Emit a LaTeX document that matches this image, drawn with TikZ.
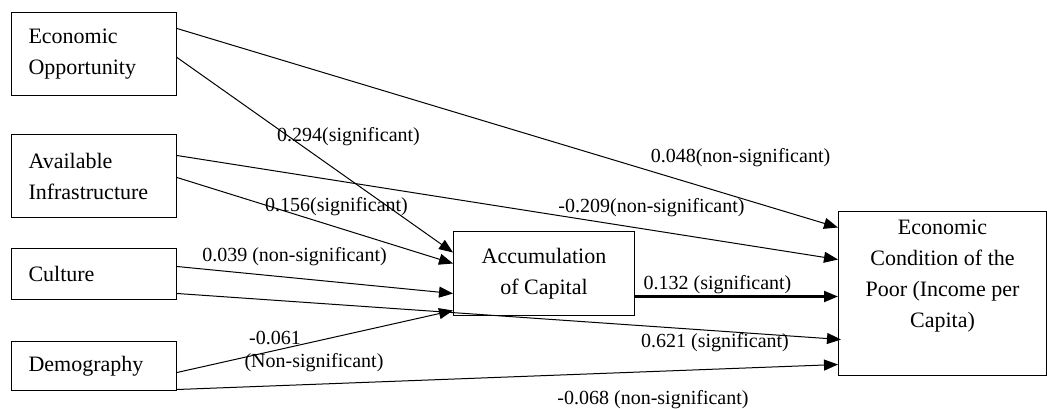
\documentclass[tikz,border=0pt]{standalone}
\usepackage{fontspec}
\setmainfont{Liberation Serif}
\usetikzlibrary{arrows.meta}
\begin{document}
\begin{tikzpicture}[x=1pt,y=-1pt,
  box/.style={draw, line width=1pt, anchor=north west, inner sep=0pt, font=\fontsize{22}{31}\selectfont},
  lbox/.style={box, align=left, inner xsep=17pt},
  cbox/.style={box, align=center},
  conn/.style={-{Triangle[length=14pt,width=11pt]}, line width=1pt},
  lbl/.style={font=\fontsize{20}{24}\selectfont, inner sep=0pt}]
\useasboundingbox (0,0) rectangle (1047,409);
% boxes
\node[lbox, text width=131pt, minimum height=83pt] (eo) at (11,12) {Economic\\Opportunity};
\node[lbox, text width=131pt, minimum height=83pt] (ai) at (11,134) {Available\\Infrastructure};
\node[lbox, text width=131pt, minimum height=51pt] (cu) at (11,248) {Culture};
\node[lbox, text width=131pt, minimum height=49pt] (de) at (11,341) {Demography};
\node[cbox, minimum width=181pt, minimum height=84pt] (aoc) at (453,231) {Accumulation\\of Capital};
\node[cbox, minimum width=208pt, minimum height=164pt] (ecp) at (838,211) {Economic\\Condition of the\\Poor (Income per\\Capita)\\\strut};
% connectors
\draw[conn] ([yshift=25.5pt]eo.east) -- ([yshift=66pt]ecp.west);
\draw[conn] ([yshift=-3.5pt]eo.east) -- ([yshift=21pt]aoc.west);
\draw[conn] ([yshift=20.5pt]ai.east) -- ([yshift=34pt]ecp.west);
\draw[conn] ([yshift=-1.5pt]ai.east) -- ([yshift=10pt]aoc.west);
\draw[conn] ([yshift=7.5pt]cu.east) -- ([yshift=-20pt]aoc.west);
\draw[conn] ([yshift=-19.5pt]cu.east) -- ([xshift=3pt,yshift=-46pt]ecp.west);
\draw[conn] ([yshift=-6.5pt]de.east) -- ([yshift=-37pt]aoc.west);
\draw[conn] ([yshift=-23.5pt]de.east) -- ([yshift=-71pt]ecp.west);
\draw[conn, line width=2.2pt] ([yshift=-23pt]aoc.east) -- ([yshift=-3pt]ecp.west);
% labels
\node[lbl] (l1) at (348.5,137) {0.294(significant)};
\node[lbl] (l2) at (336.5,207) {0.156(significant)};
\node[lbl] (l3) at (740.5,158) {0.048(non-significant)};
\node[lbl] (l4) at (651.5,208) {-0.209(non-significant)};
\node[lbl] (l5) at (294.5,257) {0.039 (non-significant)};
\node[lbl] (l6) at (275,338) {-0.061};
\node[lbl] (l7) at (314,363) {(Non-significant)};
\node[lbl] (l8) at (717.5,285) {0.132 (significant)};
\node[lbl] (l9) at (715,343) {0.621 (significant)};
\node[lbl] (l10) at (653,400) {-0.068 (non-significant)};
\end{tikzpicture}
\end{document}
